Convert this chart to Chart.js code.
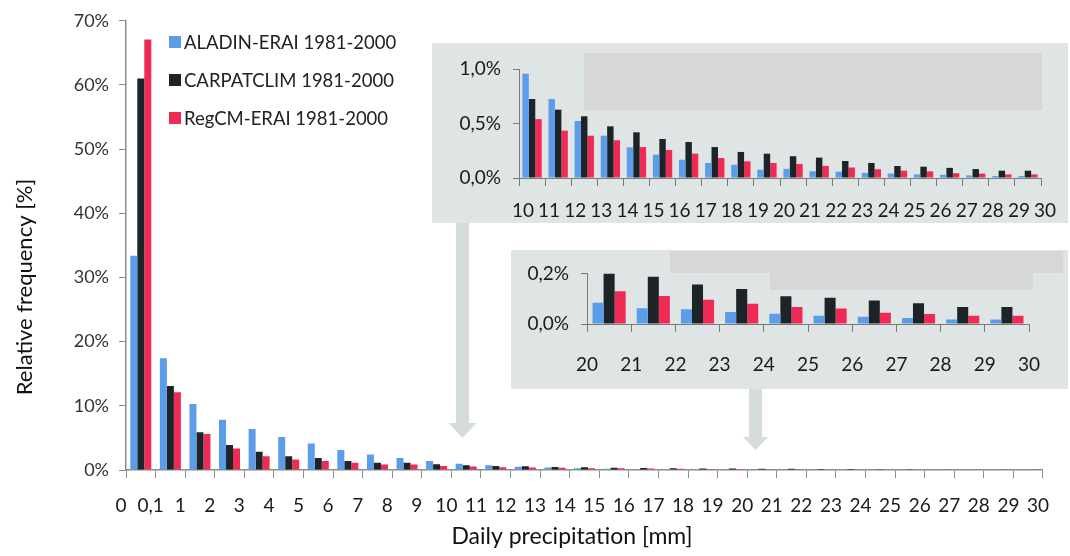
<!DOCTYPE html>
<html>
<head>
<meta charset="utf-8">
<script src="https://cdn.jsdelivr.net/npm/chart.js@4/dist/chart.umd.min.js"></script>
<style>
  html, body { margin: 0; padding: 0; background: #ffffff; }
  #wrap { position: relative; width: 1070px; height: 556px; overflow: hidden; font-family: Lato, "Open Sans", sans-serif; }
  canvas { position: absolute; display: block; }
  #legend { position: absolute; left: 169px; top: 30px; }
  .li { position: absolute; left: 0; height: 24px; line-height: 24px; white-space: nowrap; font-size: 18.5px; color: #222; }
  .sw { position: absolute; left: 0; top: 6px; width: 12px; height: 12px; }
  .lt { position: absolute; left: 15px; top: 0; }
</style>
</head>
<body>
<div id="wrap">
  <canvas id="main" width="1070" height="556" style="left:0;top:0;"></canvas>
  <canvas id="ins1" width="636" height="180" style="left:432px;top:43px;"></canvas>
  <canvas id="ins2" width="557" height="139" style="left:511px;top:250px;"></canvas>
  <div id="legend"></div>
</div>
<script>
// ---- data ----
const boundaryLabels = ['0','0,1','1','2','3','4','5','6','7','8','9','10','11','12','13','14','15','16','17','18','19','20','21','22','23','24','25','26','27','28','29','30'];
const seriesNames = ['ALADIN-ERAI 1981-2000', 'CARPATCLIM 1981-2000', 'RegCM-ERAI 1981-2000'];
const seriesColors = ['#5b9de8', '#1c2427', '#ef2a55'];
// relative frequency [%] per precipitation interval (0-0.1, 0.1-1, 1-2, ... 29-30)
const aladin = [33.4, 17.4, 10.3, 7.85, 6.4, 5.15, 4.13, 3.1, 2.4, 1.86, 1.4,
  0.957, 0.725, 0.523, 0.388, 0.281, 0.214, 0.168, 0.138, 0.122, 0.076,
  0.084, 0.062, 0.058, 0.047, 0.041, 0.033, 0.029, 0.024, 0.018, 0.018];
const carpatclim = [61.0, 13.1, 5.9, 3.88, 2.85, 2.15, 1.88, 1.4, 1.14, 1.14, 0.88,
  0.725, 0.627, 0.566, 0.474, 0.419, 0.358, 0.33, 0.284, 0.239, 0.223,
  0.2, 0.187, 0.156, 0.138, 0.11, 0.104, 0.093, 0.082, 0.067, 0.067];
const regcm = [67.1, 12.1, 5.62, 3.36, 2.14, 1.65, 1.42, 1.14, 0.86, 0.86, 0.62,
  0.54, 0.434, 0.388, 0.346, 0.284, 0.257, 0.223, 0.183, 0.153, 0.138,
  0.129, 0.111, 0.096, 0.08, 0.067, 0.061, 0.044, 0.04, 0.033, 0.033];
const mainYTicks = [0, 10, 20, 30, 40, 50, 60, 70];
const inset1Start = 11; // interval 10-11
const inset2Start = 21; // interval 20-21
const inset1Labels = boundaryLabels.slice(inset1Start);
const inset2Labels = boundaryLabels.slice(inset2Start);
const xTitle = 'Daily precipitation [mm]';
const yTitle = 'Relative frequency [%]';

// ---- helpers ----
Chart.defaults.font.family = 'Lato, "Open Sans", sans-serif';
Chart.defaults.color = '#222';
const AX = '#8c8c8c';

function groupsOf(bounds) { return bounds.slice(0, -1).map((b, i) => b + '-' + bounds[i + 1]); }
function datasetsOf(start, catPct) {
  return [aladin, carpatclim, regcm].map((arr, i) => ({
    label: seriesNames[i], data: arr.slice(start), backgroundColor: seriesColors[i],
    borderWidth: 0, barPercentage: 1.0, categoryPercentage: catPct
  }));
}

// legend (HTML text)
const leg = document.getElementById('legend');
seriesNames.forEach((n, i) => {
  const d = document.createElement('div');
  d.className = 'li'; d.style.top = (i * 38) + 'px';
  d.innerHTML = '<span class="sw" style="background:' + seriesColors[i] + '"></span><span class="lt"></span>';
  d.querySelector('.lt').textContent = n;
  leg.appendChild(d);
});

// decorations for main chart: arrows + axis titles
const mainDeco = {
  id: 'mainDeco',
  afterDraw(chart) {
    const c = chart.ctx;
    c.save();
    c.fillStyle = '#d6dcdc';
    function arrow(x, y0, yHead, yTip, sw, hw) {
      c.beginPath();
      c.moveTo(x - sw / 2, y0); c.lineTo(x + sw / 2, y0); c.lineTo(x + sw / 2, yHead);
      c.lineTo(x + hw / 2, yHead); c.lineTo(x, yTip); c.lineTo(x - hw / 2, yHead);
      c.lineTo(x - sw / 2, yHead); c.closePath(); c.fill();
    }
    arrow(462.5, 223, 423, 438, 13, 28);
    arrow(755.5, 389, 437, 450, 13, 25);
    c.fillStyle = '#111';
    c.textAlign = 'center'; c.textBaseline = 'middle';
    c.font = '23px Lato, "Open Sans", sans-serif';
    c.fillText(xTitle, 572, 537);
    c.font = '22px Lato, "Open Sans", sans-serif';
    c.translate(25, 287); c.rotate(-Math.PI / 2);
    c.fillText(yTitle, 0, 0);
    c.restore();
  }
};

function boundaryAxis(labels, height, pad, lofs, tickColor, borderW) {
  return {
    type: 'linear', position: 'bottom', min: 0, max: labels.length - 1, offset: false,
    afterBuildTicks: s => { s.ticks = labels.map((_, i) => ({ value: i })); },
    ticks: { autoSkip: false, maxRotation: 0, minRotation: 0, padding: pad, labelOffset: lofs,
             font: { size: 19 }, color: '#1a1a1a', callback: v => labels[v] },
    grid: { drawOnChartArea: false, offset: false, tickLength: 8, color: tickColor },
    border: { color: tickColor, width: borderW },
    afterFit: s => { s.height = height; }
  };
}

new Chart(document.getElementById('main'), {
  type: 'bar',
  data: { labels: groupsOf(boundaryLabels), datasets: datasetsOf(0, 0.71) },
  options: {
    responsive: false, animation: false, devicePixelRatio: 1,
    layout: { padding: { left: 0, right: 23, top: 19, bottom: 0 } },
    plugins: { legend: { display: false }, tooltip: { enabled: false } },
    scales: {
      x: { type: 'category', display: false, offset: true },
      xb: boundaryAxis(boundaryLabels, 86, 16, -5, AX, 1.5),
      y: {
        min: 0, max: 70,
        afterBuildTicks: s => { s.ticks = mainYTicks.map(v => ({ value: v })); },
        ticks: { padding: 10, font: { size: 18 }, color: '#333', callback: v => v + '%' },
        grid: { drawOnChartArea: false, tickLength: 7, color: AX },
        border: { color: AX, width: 1.5 },
        afterFit: s => { s.width = 126; }
      }
    }
  },
  plugins: [mainDeco]
});

function panelPlugin(id, rects) {
  return {
    id,
    beforeDraw(chart) {
      const c = chart.ctx;
      c.save();
      c.fillStyle = '#dfe4e4';
      c.fillRect(0, 0, chart.width, chart.height);
      c.fillStyle = '#d7d7d7';
      rects.forEach(r => c.fillRect(r[0], r[1], r[2], r[3]));
      c.restore();
    }
  };
}

const pctFmt = v => v.toFixed(1).replace('.', ',') + '%';

// inset 1 (10-30 mm)
new Chart(document.getElementById('ins1'), {
  type: 'bar',
  data: { labels: groupsOf(inset1Labels), datasets: datasetsOf(inset1Start, 0.74) },
  options: {
    responsive: false, animation: false, devicePixelRatio: 1,
    layout: { padding: { left: 0, right: 27, top: 26, bottom: 0 } },
    plugins: { legend: { display: false }, tooltip: { enabled: false } },
    scales: {
      x: { type: 'category', display: false, offset: true },
      xb: boundaryAxis(inset1Labels, 45, 13, 4, '#7a7a7a', 1),
      y: {
        min: 0, max: 1.0,
        afterBuildTicks: s => { s.ticks = [0, 0.5, 1.0].map(v => ({ value: v })); },
        ticks: { padding: 12, font: { size: 19 }, color: '#1a1a1a', callback: pctFmt },
        grid: { drawOnChartArea: false, tickLength: 6, color: '#7a7a7a' },
        border: { color: '#7a7a7a' },
        afterFit: s => { s.width = 87; }
      }
    }
  },
  plugins: [panelPlugin('p1', [[152, 10, 458, 57]])]
});

// inset 2 (20-30 mm)
new Chart(document.getElementById('ins2'), {
  type: 'bar',
  data: { labels: groupsOf(inset2Labels), datasets: datasetsOf(inset2Start, 0.75) },
  options: {
    responsive: false, animation: false, devicePixelRatio: 1,
    layout: { padding: { left: 0, right: 39, top: 14, bottom: 0 } },
    plugins: { legend: { display: false }, tooltip: { enabled: false } },
    scales: {
      x: { type: 'category', display: false, offset: true },
      xb: boundaryAxis(inset2Labels, 65, 21, 0, '#7a7a7a', 1),
      y: {
        min: 0, max: 0.2,
        afterBuildTicks: s => { s.ticks = [0, 0.2].map(v => ({ value: v })); },
        ticks: { padding: 12, font: { size: 19 }, color: '#1a1a1a', callback: pctFmt },
        grid: { drawOnChartArea: false, tickLength: 6, color: '#7a7a7a' },
        border: { color: '#7a7a7a' },
        afterFit: s => { s.width = 76; }
      }
    }
  },
  plugins: [panelPlugin('p2', [[159, 1, 393, 22], [259, 23, 263, 17]])]
});
</script>
</body>
</html>
